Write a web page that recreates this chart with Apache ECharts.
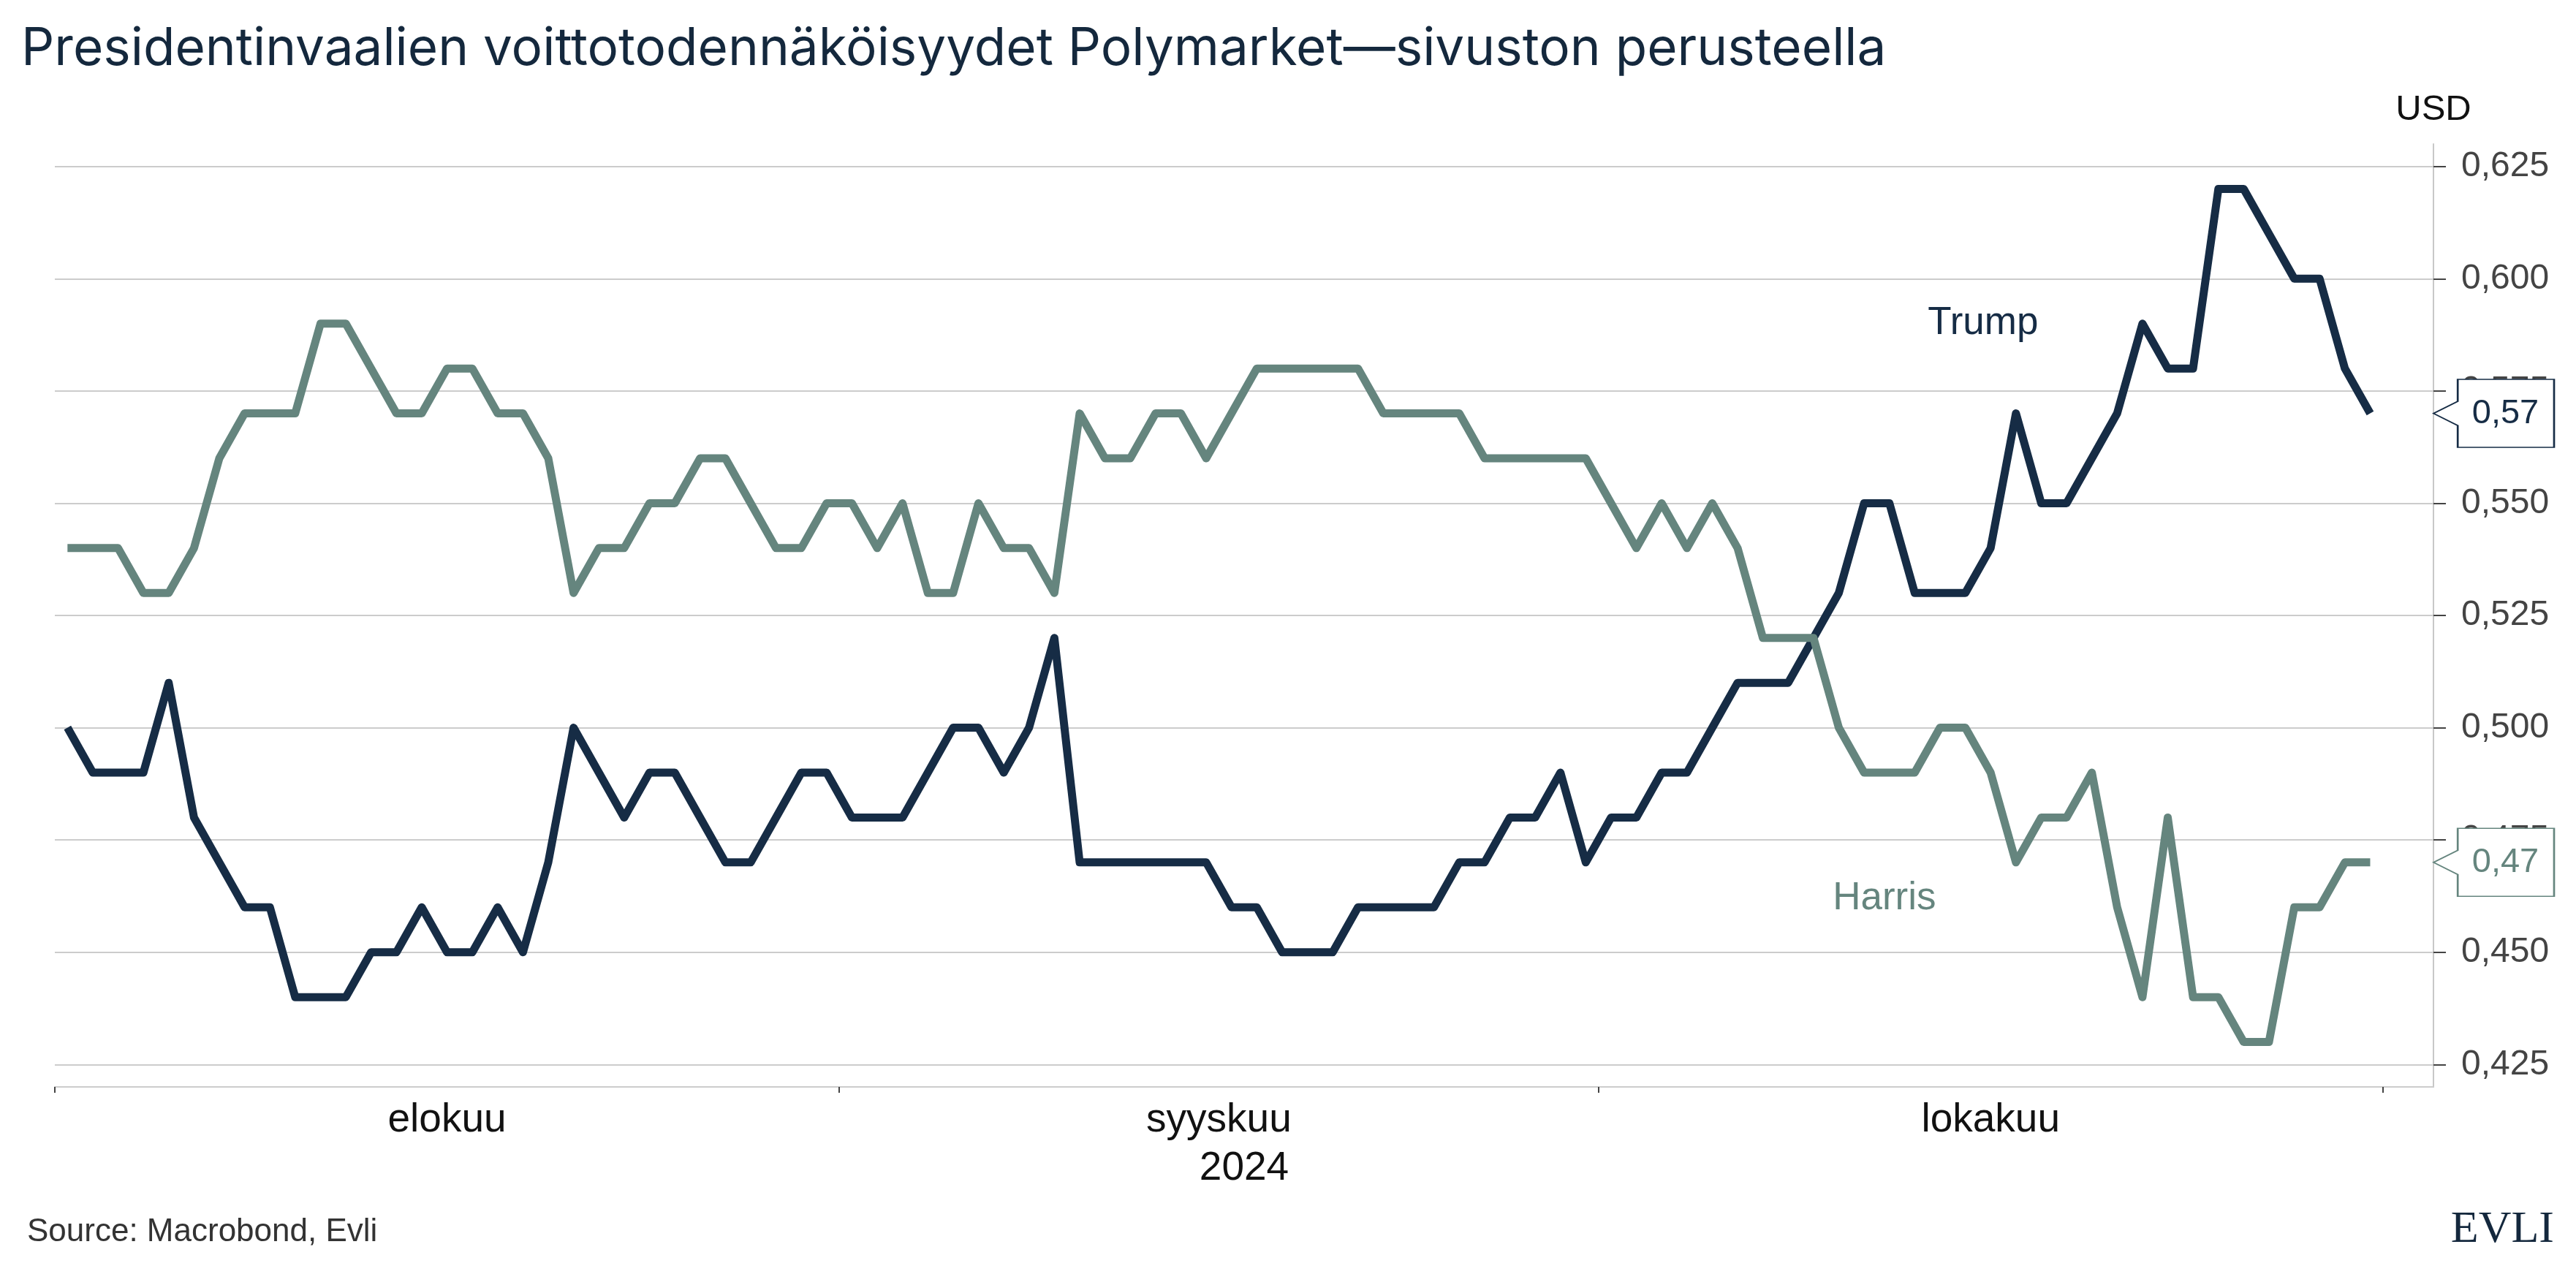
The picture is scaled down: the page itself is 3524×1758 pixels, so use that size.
<!DOCTYPE html>
<html>
<head>
<meta charset="utf-8">
<script src="https://cdn.jsdelivr.net/npm/echarts@6/dist/echarts.min.js"></script>
<style>
html,body{margin:0;padding:0;background:#ffffff;}
#chart{width:3524px;height:1758px;}
</style>
</head>
<body>
<div id="chart"></div>
<script>
// Days since 1 Aug 2024 (daily points, Aug 1 .. Oct 31)
const monthNames = ['elokuu', 'syyskuu', 'lokakuu'];
const monthStartDays = [0, 31, 61, 92];
const yearLabel = '2024';
const yTicks = [0.425, 0.45, 0.475, 0.5, 0.525, 0.55, 0.575, 0.6, 0.625];

const trump = [
  0.50,0.49,0.49,0.49,0.51,0.48,0.47,0.46,0.46,0.44,0.44,0.44,0.45,0.45,0.46,0.45,0.45,0.46,0.45,
  0.47,0.50,0.49,0.48,0.49,0.49,0.48,0.47,0.47,0.48,0.49,0.49,0.48,0.48,0.48,0.49,0.50,0.50,0.49,
  0.50,0.52,0.47,0.47,0.47,0.47,0.47,0.47,0.46,0.46,0.45,0.45,0.45,0.46,0.46,0.46,0.46,0.47,0.47,
  0.48,0.48,0.49,0.47,0.48,0.48,0.49,0.49,0.50,0.51,0.51,0.51,0.52,0.53,0.55,0.55,0.53,0.53,0.53,
  0.54,0.57,0.55,0.55,0.56,0.57,0.59,0.58,0.58,0.62,0.62,0.61,0.60,0.60,0.58,0.57
];
const harris = [
  0.54,0.54,0.54,0.53,0.53,0.54,0.56,0.57,0.57,0.57,0.59,0.59,0.58,0.57,0.57,0.58,0.58,0.57,0.57,
  0.56,0.53,0.54,0.54,0.55,0.55,0.56,0.56,0.55,0.54,0.54,0.55,0.55,0.54,0.55,0.53,0.53,0.55,0.54,
  0.54,0.53,0.57,0.56,0.56,0.57,0.57,0.56,0.57,0.58,0.58,0.58,0.58,0.58,0.57,0.57,0.57,0.57,0.56,
  0.56,0.56,0.56,0.56,0.55,0.54,0.55,0.54,0.55,0.54,0.52,0.52,0.52,0.50,0.49,0.49,0.49,0.50,0.50,
  0.49,0.47,0.48,0.48,0.49,0.46,0.44,0.48,0.44,0.44,0.43,0.43,0.46,0.46,0.47,0.47
];

const trumpColor = '#162c45';
const harrisColor = '#65857e';
const FONT = 'Liberation Sans';
const X_MAX = 94;

const monthMids = monthNames.map((m, i) => (monthStartDays[i] + monthStartDays[i + 1]) / 2);
const toPoints = arr => arr.map((v, i) => [i + 0.5, v]);
const fmt = (v, d) => v.toFixed(d).replace('.', ',');

const calloutPath = 'path://M0,46.5L33,30L33,0L164,0L164,93L33,93L33,63Z';

function endCallout(arr, color) {
  const last = arr[arr.length - 1];
  return {
    coord: [X_MAX, last],
    symbol: calloutPath,
    symbolSize: [165, 93],
    symbolKeepAspect: false,
    symbolOffset: ['50%', 0],
    itemStyle: { color: '#ffffff', borderColor: color, borderWidth: 2 },
    label: {
      show: true, position: 'inside', offset: [16, 0],
      formatter: fmt(last, 2), color: color, fontSize: 47, fontFamily: FONT
    }
  };
}

function nameLabel(name, coord, color) {
  return {
    coord: coord,
    symbol: 'circle',
    symbolSize: 1,
    itemStyle: { color: 'rgba(0,0,0,0)' },
    label: {
      show: true, position: 'inside', formatter: name,
      color: color, fontSize: 53, fontFamily: FONT
    }
  };
}

const chart = echarts.init(document.getElementById('chart'));
chart.setOption({
  animation: false,
  backgroundColor: '#ffffff',
  title: {
    text: 'Presidentinvaalien voittotodennäköisyydet Polymarket\u2014sivuston perusteella',
    left: 24, top: 27,
    textStyle: { fontFamily: 'Inter', fontSize: 71, fontWeight: 'normal', color: '#14283d' }
  },
  grid: { left: 75, right: 195, top: 197, bottom: 271, containLabel: false },
  xAxis: {
    type: 'value',
    min: 0, max: X_MAX,
    name: yearLabel,
    nameLocation: 'middle',
    nameGap: 84,
    nameTextStyle: { fontFamily: FONT, fontSize: 55, color: '#111111' },
    axisLine: { show: true, onZero: false, lineStyle: { color: '#cccccc', width: 2 } },
    axisTick: { show: true, customValues: monthStartDays, length: 8, lineStyle: { color: '#444444', width: 2 } },
    axisLabel: {
      show: true, customValues: monthMids, margin: 18,
      fontFamily: FONT, fontSize: 55, color: '#111111',
      formatter: v => {
        let best = 0;
        monthMids.forEach((m, i) => { if (Math.abs(m - v) < Math.abs(monthMids[best] - v)) best = i; });
        return monthNames[best];
      }
    },
    splitLine: { show: false }
  },
  yAxis: {
    type: 'value',
    position: 'right',
    min: 0.42, max: 0.63,
    name: 'USD',
    nameLocation: 'end',
    nameGap: 22,
    nameTextStyle: { fontFamily: FONT, fontSize: 49, color: '#111111', align: 'center' },
    axisLine: { show: true, onZero: false, lineStyle: { color: '#c8c8c8', width: 2 } },
    axisTick: { show: true, customValues: yTicks, length: 17, lineStyle: { color: '#444444', width: 2 } },
    axisLabel: {
      show: true, customValues: yTicks, margin: 38,
      fontFamily: FONT, fontSize: 48, color: '#444444',
      formatter: v => fmt(v, 3)
    },
    splitLine: { show: true, lineStyle: { color: '#cccccc', width: 2 } }
  },
  series: [
    {
      name: 'Trump', type: 'line', data: toPoints(trump),
      showSymbol: false, symbol: 'none',
      lineStyle: { color: trumpColor, width: 11, join: 'round' },
      itemStyle: { color: trumpColor },
      z: 3,
      markPoint: {
        silent: true,
        data: [endCallout(trump, trumpColor), nameLabel('Trump', [76.2, 0.590], trumpColor)]
      }
    },
    {
      name: 'Harris', type: 'line', data: toPoints(harris),
      showSymbol: false, symbol: 'none',
      lineStyle: { color: harrisColor, width: 11, join: 'round' },
      itemStyle: { color: harrisColor },
      z: 3,
      markPoint: {
        silent: true,
        data: [endCallout(harris, harrisColor), nameLabel('Harris', [72.3, 0.462], harrisColor)]
      }
    }
  ],
  graphic: [
    {
      type: 'text', left: 37, top: 1664,
      style: { text: 'Source: Macrobond, Evli', fontFamily: FONT, fontSize: 44, fill: '#333333' }
    },
    {
      type: 'text', right: 30, top: 1652,
      style: { text: 'EVLI', fontFamily: 'Liberation Serif', fontSize: 62, fill: '#14283d' }
    }
  ]
});
</script>
</body>
</html>
